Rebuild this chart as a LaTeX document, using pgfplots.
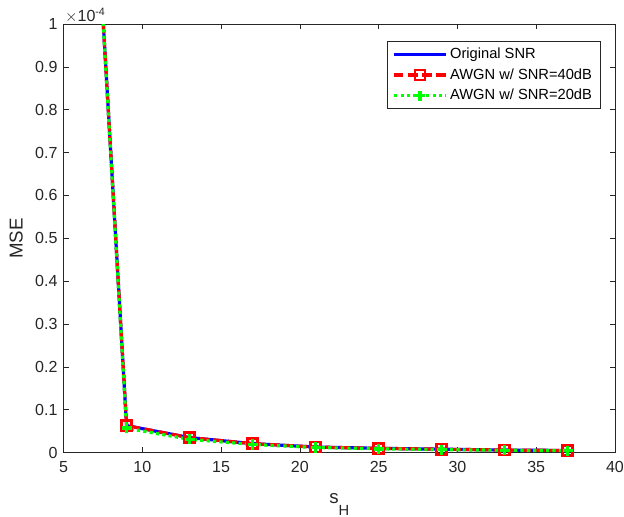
\documentclass[border=0pt]{standalone}
\usepackage{fontspec}
\setmainfont{Liberation Sans}
\usepackage{pgfplots}
\pgfplotsset{compat=1.18}
\definecolor{axgray}{rgb}{0.15,0.15,0.15}

\begin{document}
\begin{tikzpicture}
\begin{axis}[
  name=ax,
  scale only axis,
  width=413pt, height=321pt,
  xmin=5, xmax=40, ymin=0, ymax=1,
  xtick={5,10,...,40},
  ytick={0,0.1,...,1},
  yticklabels={0,0.1,0.2,0.3,0.4,0.5,0.6,0.7,0.8,0.9,1},
  tick align=inside,
  major tick length=4pt,
  tick style={axgray, line width=0.5pt},
  axis line style={axgray, line width=0.5pt},
  /pgf/number format/assume math mode=true,
  tick label style={font=\fontsize{12}{14}\selectfont, text=axgray},
  xticklabel style={yshift=-3pt},
  yticklabel style={xshift=-1pt},
  xlabel={s\raisebox{-9pt}{\fontsize{11}{11}\selectfont H}},
  ylabel={MSE},
  label style={font=\fontsize{14}{16}\selectfont, text=axgray},
  xlabel style={at={(rel axis cs:0.5,0)}, anchor=base, yshift=-38pt},
  ylabel style={at={(rel axis cs:0,0.5)}, anchor=base, yshift=30.7pt},
  legend cell align=left,
  legend style={
    at={(1,1)}, anchor=north east, xshift=-11pt, yshift=-12.7pt,
    font=\fontsize{11}{13}\selectfont,
    draw=axgray, line width=0.5pt,
    row sep=2pt, inner xsep=4pt, inner ysep=3pt,
  },
  legend image code/.code={
    \draw[mark repeat=2, mark phase=2, #1]
      plot coordinates {(0cm,0cm) (0.68cm,0cm) (1.36cm,0cm)};
  },
]
\addplot[blue, line width=2.4pt] coordinates {
  (5,2.6) (9,0.063) (13,0.035) (17,0.021) (21,0.013) (25,0.010) (29,0.008) (33,0.006) (37,0.005)
};
\addlegendentry{Original SNR}
\addplot[red, line width=2.4pt, dash pattern=on 7pt off 3.5pt,
  mark=square, mark size=3.8pt, mark options={solid, line width=2pt}] coordinates {
  (5,2.6) (9,0.063) (13,0.035) (17,0.021) (21,0.013) (25,0.010) (29,0.008) (33,0.006) (37,0.005)
};
\addlegendentry{AWGN w/ SNR=40dB}
\addplot[green, line width=2.4pt, dash pattern=on 2.4pt off 2.4pt,
  mark=+, mark size=3.8pt, mark options={solid, line width=2.6pt}] coordinates {
  (5,2.6) (9,0.057) (13,0.031) (17,0.019) (21,0.012) (25,0.009) (29,0.007) (33,0.0055) (37,0.0045)
};
\addlegendentry{AWGN w/ SNR=20dB}
\end{axis}
\node[anchor=south west, font=\fontsize{12}{14}\selectfont, text=axgray, inner sep=1pt]
  at (ax.north west) {$\times$10\textsuperscript{-4}};
\pgfresetboundingbox
\path ([shift={(-47.6pt,-48pt)}]ax.south west) rectangle ([shift={(6.75pt,18pt)}]ax.north east);
\end{tikzpicture}
\end{document}
